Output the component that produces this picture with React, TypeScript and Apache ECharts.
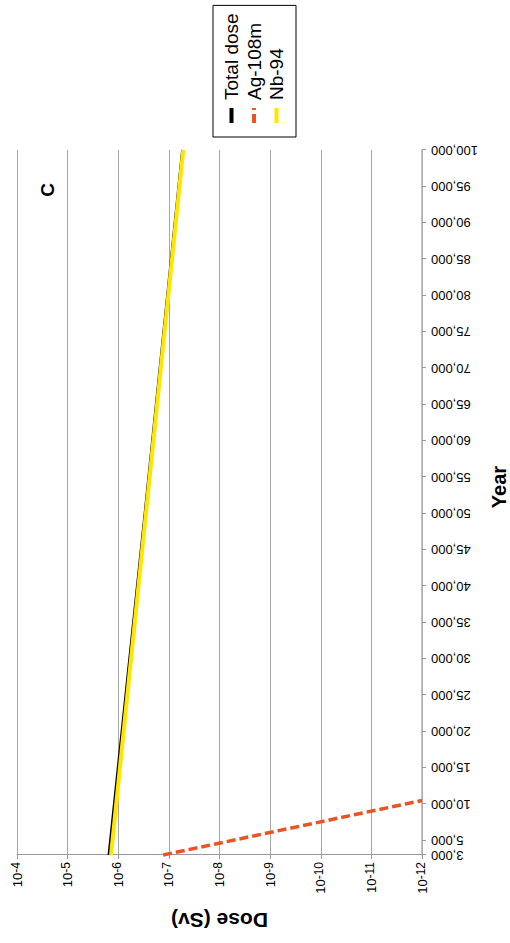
import React, { useEffect, useRef } from "react";
import * as echarts from "echarts";

// ---- data ----
const seriesNames = ["Total dose", "Ag-108m", "Nb-94"];
const totalYears = [3000, 50000, 100000];
const totalDose = [1.52e-6, 2.95e-7, 5.35e-8];
const agYears = [3000, 10500];
const agDose = [1.3e-7, 1e-12];
const nbYears = [3000, 50000, 100000];
const nbDose = [1.39e-6, 2.84e-7, 5.2e-8];
const yearTicks = [
  3000, 5000, 10000, 15000, 20000, 25000, 30000, 35000, 40000, 45000, 50000,
  55000, 60000, 65000, 70000, 75000, 80000, 85000, 90000, 95000, 100000,
];
const doseMin = 1e-12;
const doseMax = 1e-4;
const panelLabel = "C";
const xTitle = "Year";
const yTitle = "Dose (Sv)";

const FONT = "'Liberation Sans', Arial, sans-serif";

const zip = (xs: number[], ys: number[]) => xs.map((x, i) => [x, ys[i]]);

export default function App() {
  const ref = useRef<HTMLDivElement>(null);

  useEffect(() => {
    if (!ref.current) return;
    const chart = echarts.init(ref.current, undefined, { renderer: "svg" });
    chart.setOption({
      animation: false,
      backgroundColor: "#ffffff",
      textStyle: { fontFamily: FONT },
      grid: {
        left: 88,
        right: 150,
        top: 17,
        bottom: 88,
        containLabel: false,
        outerBoundsMode: "none",
      },
      legend: {
        data: seriesNames,
        orient: "vertical",
        left: 806,
        top: 213,
        itemWidth: 15,
        itemHeight: 12,
        itemGap: 3.5,
        borderColor: "#000",
        borderWidth: 1,
        padding: [9, 8, 10, 12],
        itemStyle: { opacity: 0 },
        lineStyle: { width: 4 },
        textStyle: {
          fontFamily: FONT,
          fontSize: 19,
          lineHeight: 19,
          color: "#000",
          padding: [0, 0, 0, 3],
        },
      },
      xAxis: {
        type: "value",
        min: 3000,
        max: 100000,
        name: xTitle,
        nameLocation: "middle",
        nameGap: 67,
        nameTextStyle: {
          fontFamily: FONT,
          fontSize: 20,
          fontWeight: "bold",
          color: "#000",
          padding: [0, 0, 0, 31],
        },
        axisLine: { show: true, lineStyle: { color: "#b0b0b0", width: 1.5 } },
        axisTick: {
          show: true,
          length: 4,
          customValues: yearTicks,
          lineStyle: { color: "#999" },
        },
        axisLabel: {
          customValues: yearTicks,
          rotate: 90,
          margin: 9,
          fontFamily: FONT,
          fontSize: 13,
          color: "#000",
          formatter: (v: number) => v.toLocaleString("en-US"),
        },
        splitLine: { show: false },
      },
      yAxis: {
        type: "log",
        logBase: 10,
        min: doseMin,
        max: doseMax,
        interval: 1,
        name: yTitle,
        nameLocation: "middle",
        nameGap: 55,
        nameTextStyle: {
          fontFamily: FONT,
          fontSize: 21,
          fontWeight: "bold",
          color: "#000",
        },
        axisLine: { show: true, lineStyle: { color: "#999", width: 1 } },
        axisTick: { show: true, length: 4, lineStyle: { color: "#999" } },
        axisLabel: {
          margin: 7,
          color: "#000",
          formatter: (v: number) => {
            const e = Math.round(Math.log10(v));
            return `{b|10}{s|${e}}`;
          },
          rich: {
            b: { fontFamily: FONT, fontSize: 13, color: "#000" },
            s: {
              fontFamily: FONT,
              fontSize: 12,
              color: "#000",
              padding: [0, 0, 3, 0],
            },
          },
        },
        splitLine: { show: true, lineStyle: { color: "#a8a8a8", width: 1 } },
      },
      graphic: [
        {
          type: "text",
          x: 753,
          y: 47,
          style: {
            text: panelLabel,
            fontFamily: FONT,
            fontSize: 19,
            fontWeight: "bold",
            fill: "#000",
            align: "center",
            verticalAlign: "middle",
          },
        },
      ],
      series: [
        {
          name: seriesNames[0],
          type: "line",
          symbol: "none",
          data: zip(totalYears, totalDose),
          lineStyle: { color: "#000000", width: 3 },
          itemStyle: { color: "#000000" },
        },
        {
          name: seriesNames[1],
          type: "line",
          symbol: "none",
          data: zip(agYears, agDose),
          lineStyle: { color: "#ea5322", width: 3.5, type: [9, 4] },
          itemStyle: { color: "#ea5322" },
        },
        {
          name: seriesNames[2],
          type: "line",
          symbol: "none",
          data: zip(nbYears, nbDose),
          lineStyle: { color: "#ffe600", width: 4 },
          itemStyle: { color: "#ffe600" },
        },
      ],
    });
    return () => chart.dispose();
  }, []);

  return (
    <div
      style={{
        position: "fixed",
        left: 0,
        top: 0,
        width: 510,
        height: 943,
        overflow: "hidden",
        background: "#fff",
      }}
    >
      <div
        style={{
          position: "absolute",
          left: 0,
          top: 0,
          width: 943,
          height: 510,
          transformOrigin: "0 0",
          transform: "translateY(943px) rotate(-90deg)",
        }}
      >
        <div ref={ref} style={{ width: 943, height: 510 }} />
      </div>
    </div>
  );
}
